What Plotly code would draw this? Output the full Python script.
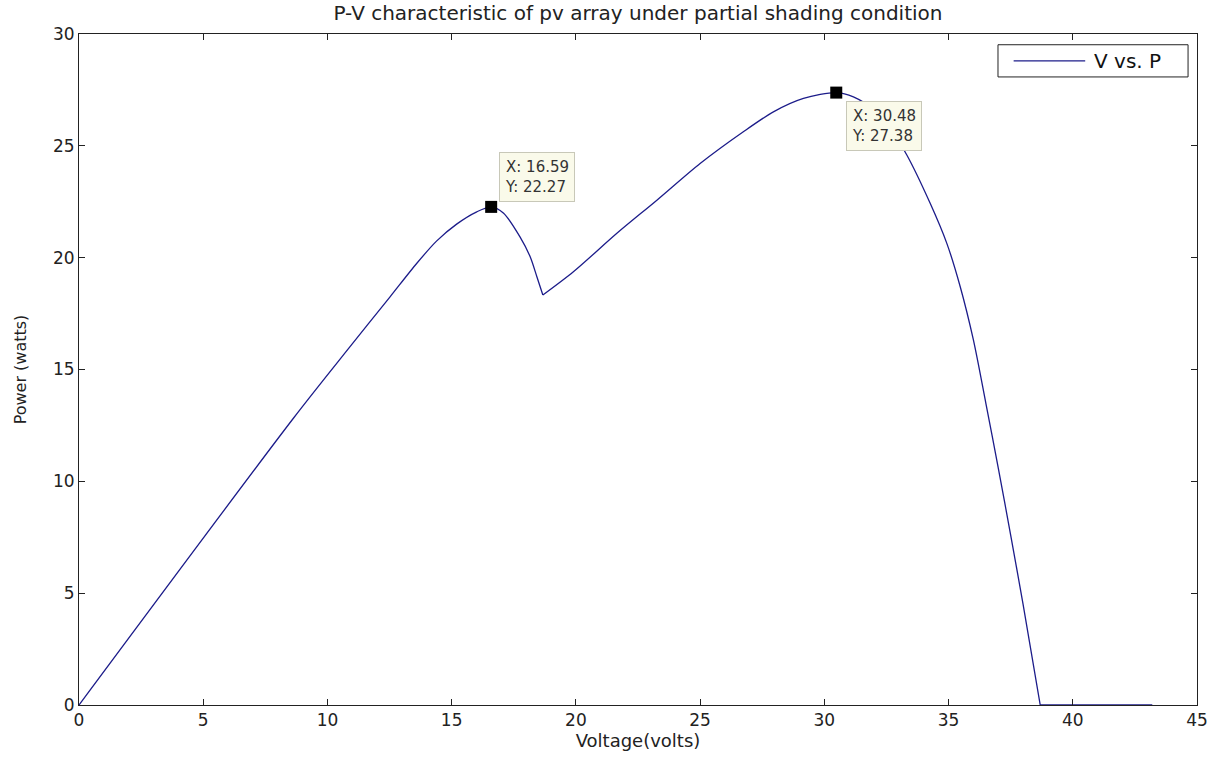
import plotly.graph_objects as go

# P-V curve, split at the sharp corners
seg1_v = [0, 8.63, 10.91, 12.52, 13.59, 14.40, 15.20, 16.01, 16.59, 17.08, 17.75, 18.16, 18.43, 18.67]
seg1_p = [0, 12.82, 16.02, 18.25, 19.74, 20.75, 21.50, 22.05, 22.27, 22.0, 20.93, 20.04, 19.15, 18.33]
seg2_v = [18.67, 19.90, 21.65, 23.26, 25.0, 26.74, 27.95, 29.16, 30.48, 31.17, 32.0, 32.7, 33.32, 34.26,
          34.93, 35.47, 36.0, 36.5, 37.0, 37.5, 38.0, 38.69]
seg2_p = [18.33, 19.37, 21.09, 22.57, 24.21, 25.63, 26.52, 27.12, 27.38, 27.19, 26.6, 25.7, 24.59, 22.43,
          20.64, 18.70, 16.32, 13.5, 10.6, 7.6, 4.5, 0]
seg3_v = [38.69, 40.0, 41.5, 43.2]
seg3_p = [0, 0, 0, 0]

tip_x = [16.59, 30.48]
tip_y = [22.27, 27.38]

title = "P-V characteristic of pv array under partial shading condition"
x_title = "Voltage(volts)"
y_title = "Power (watts)"
x_ticks = [0, 5, 10, 15, 20, 25, 30, 35, 40, 45]
y_ticks = [0, 5, 10, 15, 20, 25, 30]
legend_label = "V vs. P"

line_color = "#1c1c8a"
font = "DejaVu Sans, Arial, sans-serif"

fig = go.Figure()
for vx, py in [(seg1_v, seg1_p), (seg2_v, seg2_p), (seg3_v, seg3_p)]:
    fig.add_trace(go.Scatter(x=vx, y=py, mode="lines", name=legend_label, legendgroup="pv",
                             line=dict(color=line_color, width=1.3, shape="spline", smoothing=0.8),
                             showlegend=False))
fig.add_trace(go.Scatter(x=tip_x, y=tip_y, mode="markers", showlegend=False,
                         marker=dict(symbol="square", size=12, color="black")))

# datatip boxes
fig.add_annotation(x=tip_x[0], y=tip_y[0], xref="x", yref="y",
                   text=f"X: {tip_x[0]:.2f}<br>Y: {tip_y[0]:.2f}", showarrow=False,
                   xanchor="left", yanchor="bottom", xshift=8, yshift=5, align="left",
                   font=dict(family=font, size=15, color="#333"),
                   bgcolor="#fafaea", bordercolor="#c8c8b8", borderwidth=1, borderpad=5)
fig.add_annotation(x=tip_x[1], y=tip_y[1], xref="x", yref="y",
                   text=f"X: {tip_x[1]:.2f}<br>Y: {tip_y[1]:.2f}", showarrow=False,
                   xanchor="left", yanchor="top", xshift=10, yshift=-8, align="left",
                   font=dict(family=font, size=15, color="#333"),
                   bgcolor="#fafaea", bordercolor="#c8c8b8", borderwidth=1, borderpad=5)

# custom MATLAB-style legend
fig.add_shape(type="rect", xref="paper", yref="paper", x0=0.822, x1=0.992, y0=0.936, y1=0.984,
              line=dict(color="#222", width=1), fillcolor="white")
fig.add_shape(type="line", xref="paper", yref="paper", x0=0.836, x1=0.900, y0=0.960, y1=0.960,
              line=dict(color=line_color, width=1.3))
fig.add_annotation(xref="paper", yref="paper", x=0.906, y=0.960, text=legend_label, showarrow=False,
                   xanchor="left", yanchor="middle", font=dict(family=font, size=20, color="#111"))

axis_common = dict(showgrid=False, zeroline=False, showline=True, linecolor="#222", linewidth=1,
                   mirror="ticks", ticks="inside", ticklen=6, tickcolor="#222", automargin=False,
                   tickfont=dict(family=font, size=17, color="#222"))

fig.update_layout(
    width=1210, height=758,
    margin=dict(l=79, r=13, t=34, b=53),
    paper_bgcolor="white", plot_bgcolor="white",
    title=dict(text=title, x=(79 + 1197) / 2 / 1210, xanchor="center", y=1 - 13 / 758, yanchor="middle",
               font=dict(family=font, size=20, color="#222"), automargin=False),
    xaxis=dict(range=[0, 45], tickvals=x_ticks,
               title=dict(text=x_title, font=dict(family=font, size=18, color="#222"), standoff=4),
               **axis_common),
    yaxis=dict(range=[0, 30], tickvals=y_ticks,
               title=dict(text=y_title, font=dict(family=font, size=16, color="#222"), standoff=22),
               **axis_common),
)

fig.write_html("out.html", config={"displayModeBar": False},
               post_script="document.body.style.margin='0';")
